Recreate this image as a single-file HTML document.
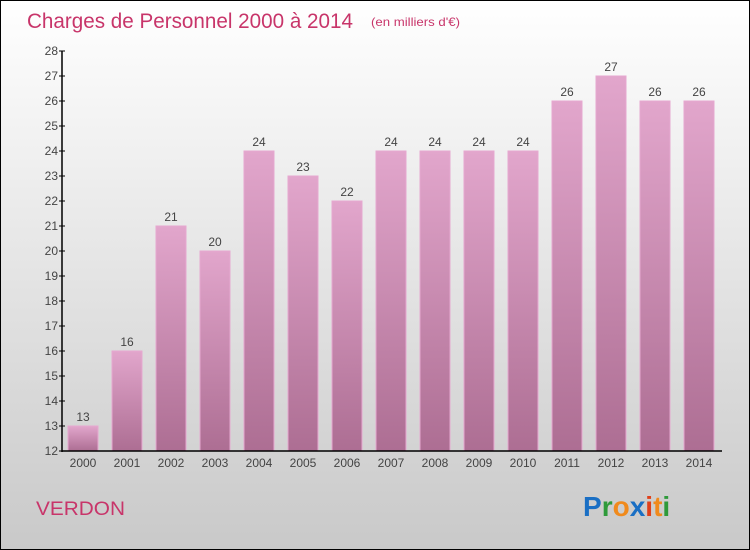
<!DOCTYPE html>
<html><head><meta charset="utf-8"><style>
body{margin:0}
#c{width:748px;height:548px;border:1px solid #000;background:linear-gradient(#fff,#c9c9c9);position:relative;font-family:"Liberation Sans",sans-serif;overflow:hidden}
</style></head><body>
<div id="c">
<svg id="s" width="748" height="548" style="position:absolute;left:0;top:0">
<defs><linearGradient id="g" x1="0" y1="0" x2="0" y2="1"><stop offset="0" stop-color="#e2a6cc"/><stop offset="1" stop-color="#ad6e93"/></linearGradient></defs>
<text x="26" y="27" font-size="21" fill="#c8356a" textLength="326" lengthAdjust="spacingAndGlyphs">Charges de Personnel 2000 à 2014</text>
<text x="370" y="25" font-size="12" fill="#c8356a" textLength="89" lengthAdjust="spacingAndGlyphs">(en milliers d'€)</text>
<text x="35" y="514" font-size="19" fill="#c8356a" textLength="89" lengthAdjust="spacingAndGlyphs">VERDON</text>
<g font-size="28" font-weight="bold" font-family="Liberation Sans,sans-serif">
<text x="582" y="515"><tspan fill="#1a6fc4">P</tspan><tspan fill="#2e9a3a">r</tspan><tspan fill="#f08a1c">o</tspan><tspan fill="#1a6fc4">x</tspan><tspan fill="#e0401a">i</tspan><tspan fill="#f08a1c">t</tspan><tspan fill="#2e9a3a">i</tspan></text></g>
<g id="plot"></g>
</svg></div>
<script>
const categories=["2000","2001","2002","2003","2004","2005","2006","2007","2008","2009","2010","2011","2012","2013","2014"];
const values=[13,16,21,20,24,23,22,24,24,24,24,26,27,26,26];
const yTicks=[12,13,14,15,16,17,18,19,20,21,22,23,24,25,26,27,28];
const NS="http://www.w3.org/2000/svg";
const p=document.getElementById('plot');
const y=v=>450-(v-12)*25;
const x=i=>82+i*44;
function mk(t,a,txt){const e=document.createElementNS(NS,t);for(const k in a)e.setAttribute(k,a[k]);if(txt!==undefined)e.textContent=txt;p.appendChild(e);return e;}
values.forEach((v,i)=>{
 const r=mk('rect',{x:x(i)-15,y:y(v),width:30,height:450-y(v),fill:'url(#g)',stroke:'#e6a8d0','stroke-width':1});
 
 
 const t=mk('text',{x:x(i),y:y(v)-5,'font-size':12,fill:'#444','text-anchor':'middle'},v);
 
 
 const c=mk('text',{x:x(i),y:466,'font-size':12,fill:'#444','text-anchor':'middle'},categories[i]);
 
 
});
yTicks.forEach(v=>{
 const l=mk('line',{x1:58,x2:64,y1:y(v),y2:y(v),stroke:'#000'});
 
 
 const t=mk('text',{x:57,y:y(v)+4,'font-size':12,fill:'#444','text-anchor':'end'},v);
 
 
});
const ya=mk('line',{x1:61,x2:61,y1:y(28),y2:451,stroke:'#000','stroke-width':1.5});


const xa=mk('line',{x1:61,x2:721,y1:450,y2:450,stroke:'#000','stroke-width':1.5});


</script>
</body></html>
